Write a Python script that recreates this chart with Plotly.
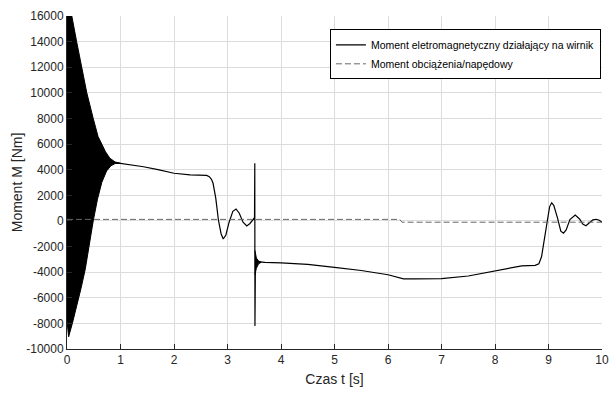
import plotly.graph_objects as go

# --- electromagnetic torque acting on the rotor (mean course) ---
t_em = [0.9, 1.0, 1.2, 1.43, 1.7, 2.0, 2.3, 2.5, 2.61, 2.66, 2.70, 2.73, 2.78, 2.83, 2.88, 2.92,
        2.97, 3.03, 3.1, 3.16, 3.22, 3.29, 3.36, 3.42, 3.48, 3.505, 3.51, 3.513, 3.516, 3.519,
        3.522, 3.6, 3.7, 4.0, 4.5, 5.0, 5.5, 6.0, 6.29, 6.5, 7.0, 7.5, 7.91, 8.2, 8.5, 8.75,
        8.82, 8.87, 8.92, 8.97, 9.02, 9.06, 9.1, 9.17, 9.23, 9.28, 9.33, 9.4, 9.5, 9.58, 9.64,
        9.7, 9.76, 9.83, 9.89, 9.95, 10.0]
m_em = [4550, 4500, 4400, 4230, 4000, 3720, 3600, 3560, 3550, 3450, 3250, 2940, 1800, 70, -1000, -1410,
        -1100, -100, 750, 930, 600, -100, -390, -200, 120, 250, 4500, -8200, -1800, -6500,
        -3200, -3190, -3230, -3280, -3400, -3630, -3870, -4200, -4520, -4530, -4500, -4300, -3990, -3720, -3510, -3470,
        -3350, -2800, -1600, -120, 1100, 1420, 1200, 200, -800, -960, -700, 100, 450, 150, -250,
        -380, -200, 80, 130, 50, -100]

# envelope of the start-up oscillations (0 - 1 s)
t_start_hi = [0.0, 0.09, 0.18, 0.27, 0.37, 0.49, 0.58, 0.65, 0.72, 0.8, 0.9, 1.0]
m_start_hi = [16600, 16000, 14000, 12000, 10000, 8000, 6600, 6000, 5400, 4900, 4600, 4500]
t_start_lo = [0.0, 0.03, 0.1, 0.18, 0.26, 0.34, 0.42, 0.49, 0.57, 0.65, 0.74, 0.82, 0.9, 1.0]
m_start_lo = [-7800, -9050, -8000, -6700, -5300, -3800, -1700, 0, 1700, 3000, 3900, 4300, 4480, 4500]

# envelope of the oscillations after the switch at 3.5 s
t_sw_hi = [3.512, 3.54, 3.58, 3.63]
m_sw_hi = [-2300, -2900, -3120, -3180]
t_sw_lo = [3.512, 3.54, 3.58, 3.63]
m_sw_lo = [-4200, -3700, -3350, -3230]

# --- load / driving torque ---
t_load = [0.0, 6.22, 6.26, 10.0]
m_load = [120, 120, -100, -100]

y_ticks = list(range(-10000, 16001, 2000))
x_ticks = list(range(0, 11))

font_family = "Liberation Sans, Arial, sans-serif"
ink = "#262626"

fig = go.Figure()

# oscillation bands (filled)
fig.add_trace(go.Scatter(
    x=t_start_hi + t_start_lo[::-1], y=m_start_hi + m_start_lo[::-1],
    fill="toself", fillcolor="black", mode="lines",
    line=dict(color="black", width=1), showlegend=False, hoverinfo="skip"))
fig.add_trace(go.Scatter(
    x=t_sw_hi + t_sw_lo[::-1], y=m_sw_hi + m_sw_lo[::-1],
    fill="toself", fillcolor="black", mode="lines",
    line=dict(color="black", width=1), showlegend=False, hoverinfo="skip"))

fig.add_trace(go.Scatter(
    x=t_em, y=m_em, mode="lines",
    line=dict(color="black", width=1.2),
    name="Moment eletromagnetyczny działający na wirnik"))
fig.add_trace(go.Scatter(
    x=t_load, y=m_load, mode="lines",
    line=dict(color="#666666", width=1, dash="6px,3px"),
    name="Moment obciążenia/napędowy"))

fig.update_layout(
    width=611, height=394,
    margin=dict(l=67, r=9, t=16, b=45, autoexpand=False),
    paper_bgcolor="white", plot_bgcolor="white",
    font=dict(family=font_family, size=12, color=ink),
    legend=dict(
        x=0.998, xanchor="right", y=0.96, yanchor="top",
        bgcolor="white", bordercolor="black", borderwidth=1,
        font=dict(family=font_family, size=10.5, color="black"),
        tracegroupgap=0, itemwidth=30),
    showlegend=True,
)

fig.update_xaxes(
    range=[0, 10], tickvals=x_ticks, ticktext=[str(v) for v in x_ticks],
    showgrid=True, gridcolor="#dcdcdc", gridwidth=1,
    showline=True, linecolor=ink, linewidth=1, mirror=False,
    ticks="inside", ticklen=5, tickcolor=ink, zeroline=False, automargin=False,
    title=dict(text="Czas t [s]", font=dict(size=14), standoff=7),
)
fig.update_yaxes(
    range=[-10000, 16000], tickvals=y_ticks, ticktext=[str(v) for v in y_ticks],
    showgrid=True, gridcolor="#dcdcdc", gridwidth=1,
    showline=True, linecolor=ink, linewidth=1, mirror=False,
    ticks="inside", ticklen=5, tickcolor=ink, zeroline=False, automargin=False,
    title=dict(text="Moment M [Nm]", font=dict(size=14), standoff=0),
)

fig.write_html("out.html")
